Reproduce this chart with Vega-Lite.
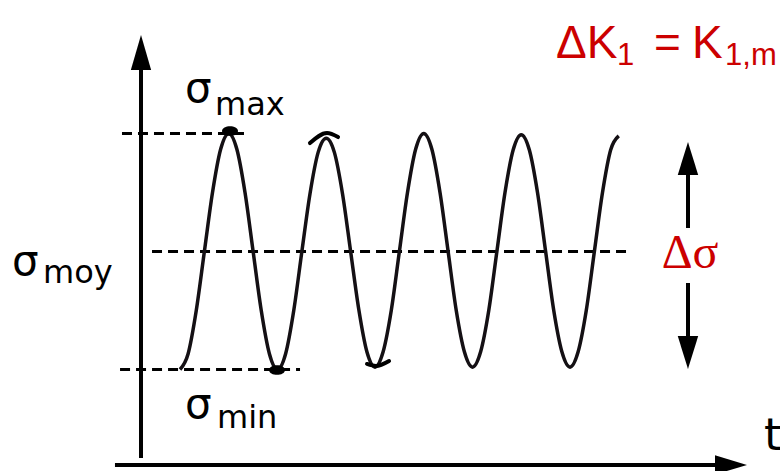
{
  "$schema": "https://vega.github.io/schema/vega-lite/v6.json",
  "width": 780,
  "height": 471,
  "autosize": {"type": "none"},
  "padding": 0,
  "background": "white",
  "config": {"view": {"stroke": null}},
  "datasets": {
    "wave": [
      {"t": 0, "s": -1}, {"t": 0.0833, "s": -0.866}, {"t": 0.1667, "s": -0.5}, {"t": 0.25, "s": 0}, {"t": 0.3333, "s": 0.5}, {"t": 0.4167, "s": 0.866},
      {"t": 0.5, "s": 1}, {"t": 0.5833, "s": 0.866}, {"t": 0.6667, "s": 0.5}, {"t": 0.75, "s": 0}, {"t": 0.8333, "s": -0.5}, {"t": 0.9167, "s": -0.866},
      {"t": 1, "s": -1}, {"t": 1.0833, "s": -0.866}, {"t": 1.1667, "s": -0.5}, {"t": 1.25, "s": 0}, {"t": 1.3333, "s": 0.49}, {"t": 1.4167, "s": 0.84},
      {"t": 1.5, "s": 0.96}, {"t": 1.5833, "s": 0.84}, {"t": 1.6667, "s": 0.49}, {"t": 1.75, "s": 0}, {"t": 1.8333, "s": -0.49}, {"t": 1.9167, "s": -0.85},
      {"t": 2, "s": -0.98}, {"t": 2.0833, "s": -0.85}, {"t": 2.1667, "s": -0.5}, {"t": 2.25, "s": 0}, {"t": 2.3333, "s": 0.5}, {"t": 2.4167, "s": 0.866},
      {"t": 2.5, "s": 1}, {"t": 2.5833, "s": 0.866}, {"t": 2.6667, "s": 0.5}, {"t": 2.75, "s": 0}, {"t": 2.8333, "s": -0.5}, {"t": 2.9167, "s": -0.85},
      {"t": 3, "s": -0.98}, {"t": 3.0833, "s": -0.85}, {"t": 3.1667, "s": -0.5}, {"t": 3.25, "s": 0}, {"t": 3.3333, "s": 0.5}, {"t": 3.4167, "s": 0.86},
      {"t": 3.5, "s": 0.99}, {"t": 3.5833, "s": 0.86}, {"t": 3.6667, "s": 0.5}, {"t": 3.75, "s": 0}, {"t": 3.8333, "s": -0.5}, {"t": 3.9167, "s": -0.85},
      {"t": 4, "s": -0.98}, {"t": 4.0833, "s": -0.85}, {"t": 4.1667, "s": -0.5}, {"t": 4.25, "s": 0}, {"t": 4.3333, "s": 0.5}, {"t": 4.4167, "s": 0.86},
      {"t": 4.5, "s": 0.98}
    ],
    "solid": [
      {"t": -0.4, "t2": -0.4, "s": -1.75, "s2": 1.55},
      {"t": -0.667, "t2": 5.5, "s": -1.809, "s2": -1.809},
      {"t": 5.21, "t2": 5.21, "s": 0.7, "s2": 0.199},
      {"t": 5.21, "t2": 5.21, "s": -0.267, "s2": -0.75}
    ],
    "dashed": [
      {"t": -0.595, "t2": 0.697, "s": 1.0, "s2": 1.0},
      {"t": -0.287, "t2": 4.615, "s": 0, "s2": 0},
      {"t": -0.615, "t2": 1.231, "s": -1.0, "s2": -1.0}
    ],
    "heads": [
      {"name": "yaxis", "t": -0.4, "s": 1.686},
      {"name": "dsUp", "t": 5.21, "s": 0.788},
      {"name": "dsDown", "t": 5.21, "s": -0.856},
      {"name": "xaxis", "t": 5.651, "s": -1.809}
    ],
    "blobs": [
      {"t": 0.513, "s": 1.021},
      {"t": 0.995, "s": -1.004}
    ],
    "strokes": [
      {"id": "a", "t": 1.333, "s": 0.919}, {"id": "a", "t": 1.508, "s": 1.004}, {"id": "a", "t": 1.621, "s": 0.97},
      {"id": "b", "t": 1.918, "s": -0.953}, {"id": "b", "t": 2.01, "s": -0.97}, {"id": "b", "t": 2.144, "s": -0.928}
    ],
    "labels": [
      {"role": "sigma", "label": "σ", "t": 0.0515, "s": 1.267},
      {"role": "sub", "label": "max", "t": 0.359, "s": 1.157},
      {"role": "sigma", "label": "σ", "t": -1.723, "s": -0.199},
      {"role": "sub", "label": "moy", "t": -1.405, "s": -0.267},
      {"role": "sigma", "label": "σ", "t": 0.0515, "s": -1.411},
      {"role": "sub", "label": "min", "t": 0.379, "s": -1.496},
      {"role": "time", "label": "t", "t": 5.99, "s": -1.682},
      {"role": "head", "label": "ΔK", "t": 3.856, "s": 1.64},
      {"role": "headSub", "label": "1", "t": 4.482, "s": 1.581},
      {"role": "head", "label": "=", "t": 4.862, "s": 1.64},
      {"role": "head", "label": "K", "t": 5.25, "s": 1.64},
      {"role": "headSub", "label": "1,m", "t": 5.59, "s": 1.581},
      {"role": "delta", "label": "Δσ", "t": 5.231, "s": -0.14}
    ]
  },
  "layer": [
    {
      "data": {"name": "dashed"},
      "mark": {"type": "rule", "color": "black", "strokeWidth": 3, "strokeDash": [10, 6]},
      "encoding": {
        "x": {"field": "t", "type": "quantitative", "scale": {"domain": [-1.8462, 6.1538], "nice": false, "zero": false}, "axis": null},
        "x2": {"field": "t2"},
        "y": {"field": "s", "type": "quantitative", "scale": {"domain": [-1.8602, 2.1314], "nice": false, "zero": false}, "axis": null},
        "y2": {"field": "s2"}
      }
    },
    {
      "data": {"name": "solid"},
      "mark": {"type": "rule", "color": "black", "strokeWidth": 4},
      "encoding": {
        "x": {"field": "t", "type": "quantitative"},
        "x2": {"field": "t2"},
        "y": {"field": "s", "type": "quantitative"},
        "y2": {"field": "s2"}
      }
    },
    {
      "data": {"name": "wave"},
      "mark": {"type": "line", "color": "#141014", "strokeWidth": 3.5, "interpolate": "monotone"},
      "encoding": {
        "x": {"field": "t", "type": "quantitative"},
        "y": {"field": "s", "type": "quantitative"}
      }
    },
    {
      "data": {"name": "strokes"},
      "mark": {"type": "line", "color": "black", "strokeWidth": 4, "strokeCap": "round", "interpolate": "monotone"},
      "encoding": {
        "x": {"field": "t", "type": "quantitative"},
        "y": {"field": "s", "type": "quantitative"},
        "detail": {"field": "id"}
      }
    },
    {
      "data": {"name": "blobs"},
      "mark": {"type": "point", "filled": true, "opacity": 1, "color": "black", "strokeWidth": 0, "size": 256, "shape": "M-1,0C-1,-0.8,1,-0.8,1,0C1,0.8,-1,0.8,-1,0Z"},
      "encoding": {
        "x": {"field": "t", "type": "quantitative"},
        "y": {"field": "s", "type": "quantitative"}
      }
    },
    {
      "data": {"name": "heads"},
      "transform": [{"filter": "datum.name === 'yaxis'"}],
      "mark": {"type": "point", "filled": true, "opacity": 1, "color": "black", "strokeWidth": 0, "size": 1225, "shape": "M0,-1L0.58,1L-0.58,1Z"},
      "encoding": {
        "x": {"field": "t", "type": "quantitative"},
        "y": {"field": "s", "type": "quantitative"}
      }
    },
    {
      "data": {"name": "heads"},
      "transform": [{"filter": "datum.name === 'dsUp'"}],
      "mark": {"type": "point", "filled": true, "opacity": 1, "color": "black", "strokeWidth": 0, "size": 1089, "shape": "M0,-1L0.62,1L-0.62,1Z"},
      "encoding": {
        "x": {"field": "t", "type": "quantitative"},
        "y": {"field": "s", "type": "quantitative"}
      }
    },
    {
      "data": {"name": "heads"},
      "transform": [{"filter": "datum.name === 'dsDown'"}],
      "mark": {"type": "point", "filled": true, "opacity": 1, "color": "black", "strokeWidth": 0, "size": 1089, "shape": "M0,1L0.62,-1L-0.62,-1Z"},
      "encoding": {
        "x": {"field": "t", "type": "quantitative"},
        "y": {"field": "s", "type": "quantitative"}
      }
    },
    {
      "data": {"name": "heads"},
      "transform": [{"filter": "datum.name === 'xaxis'"}],
      "mark": {"type": "point", "filled": true, "opacity": 1, "color": "black", "strokeWidth": 0, "size": 1024, "shape": "M1,0L-1,0.6L-1,-0.6Z"},
      "encoding": {
        "x": {"field": "t", "type": "quantitative"},
        "y": {"field": "s", "type": "quantitative"}
      }
    },
    {
      "data": {"name": "labels"},
      "transform": [{"filter": "datum.role === 'sigma'"}],
      "mark": {"type": "text", "align": "left", "baseline": "alphabetic", "font": "DejaVu Sans", "fontSize": 42, "color": "black"},
      "encoding": {
        "x": {"field": "t", "type": "quantitative"},
        "y": {"field": "s", "type": "quantitative"},
        "text": {"field": "label"}
      }
    },
    {
      "data": {"name": "labels"},
      "transform": [{"filter": "datum.role === 'sub'"}],
      "mark": {"type": "text", "align": "left", "baseline": "alphabetic", "font": "DejaVu Sans", "fontSize": 32, "color": "black"},
      "encoding": {
        "x": {"field": "t", "type": "quantitative"},
        "y": {"field": "s", "type": "quantitative"},
        "text": {"field": "label"}
      }
    },
    {
      "data": {"name": "labels"},
      "transform": [{"filter": "datum.role === 'time'"}],
      "mark": {"type": "text", "align": "left", "baseline": "alphabetic", "font": "DejaVu Sans", "fontSize": 45, "color": "black"},
      "encoding": {
        "x": {"field": "t", "type": "quantitative"},
        "y": {"field": "s", "type": "quantitative"},
        "text": {"field": "label"}
      }
    },
    {
      "data": {"name": "labels"},
      "transform": [{"filter": "datum.role === 'head'"}],
      "mark": {"type": "text", "align": "left", "baseline": "alphabetic", "font": "Liberation Sans", "fontSize": 46, "color": "#cc0000"},
      "encoding": {
        "x": {"field": "t", "type": "quantitative"},
        "y": {"field": "s", "type": "quantitative"},
        "text": {"field": "label"}
      }
    },
    {
      "data": {"name": "labels"},
      "transform": [{"filter": "datum.role === 'headSub'"}],
      "mark": {"type": "text", "align": "left", "baseline": "alphabetic", "font": "Liberation Sans", "fontSize": 31, "color": "#cc0000"},
      "encoding": {
        "x": {"field": "t", "type": "quantitative"},
        "y": {"field": "s", "type": "quantitative"},
        "text": {"field": "label"}
      }
    },
    {
      "data": {"name": "labels"},
      "transform": [{"filter": "datum.role === 'delta'"}],
      "mark": {"type": "text", "align": "center", "baseline": "alphabetic", "font": "Liberation Serif", "fontSize": 48, "color": "#cc0000"},
      "encoding": {
        "x": {"field": "t", "type": "quantitative"},
        "y": {"field": "s", "type": "quantitative"},
        "text": {"field": "label"}
      }
    }
  ]
}
